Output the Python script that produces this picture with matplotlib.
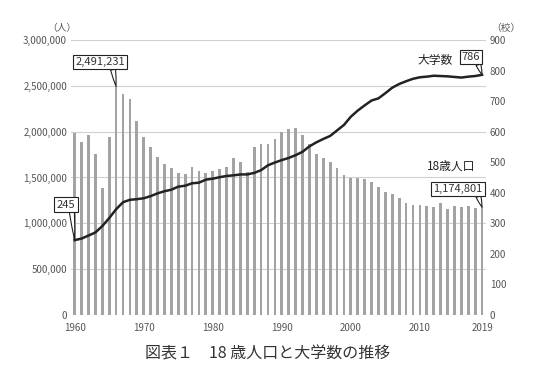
import matplotlib
matplotlib.use("Agg")
import matplotlib.pyplot as plt
import numpy as np

plt.rcParams['font.family'] = ['Noto Sans CJK JP', 'DejaVu Sans']

# 18-year-old population (people), 1960-2019
years = list(range(1960, 2020))
population = [
    1985000, 1884000, 1960000, 1760000, 1382000, 1938000, 2491231, 2414000, 2353000, 2116000,
    1938000, 1836000, 1727000, 1651000, 1607000, 1549000, 1535000, 1614000, 1567000, 1546000,
    1567000, 1593000, 1618000, 1709000, 1666000, 1556000, 1833000, 1869000, 1869000, 1924000,
    1993000, 2033000, 2040000, 1967000, 1860000, 1756000, 1716000, 1666000, 1604000, 1530000,
    1492000, 1490000, 1482000, 1450000, 1391000, 1345000, 1317000, 1276000, 1222000, 1203000,
    1203000, 1189000, 1178000, 1222000, 1160000, 1186000, 1180000, 1189000, 1165000, 1174801,
]
# number of universities
universities = [
    245, 250, 260, 270, 291, 317, 346, 369, 377, 379,
    382, 389, 398, 405, 410, 420, 423, 431, 433, 443,
    446, 451, 455, 457, 460, 460, 465, 474, 490, 499,
    507, 514, 523, 534, 552, 565, 576, 586, 604, 622,
    649, 669, 686, 702, 709, 726, 744, 756, 765, 773,
    778, 780, 783, 782, 781, 779, 777, 780, 782, 786,
]

left_ticks = [0, 500000, 1000000, 1500000, 2000000, 2500000, 3000000]
right_ticks = [0, 100, 200, 300, 400, 500, 600, 700, 800, 900]
x_ticks = [1960, 1970, 1980, 1990, 2000, 2010, 2019]

tick_color = '#555555'

fig = plt.figure(figsize=(5.55, 3.79), dpi=100)
ax = fig.add_axes([0.1283, 0.1689, 0.7465, 0.7256])
ax2 = ax.twinx()

ax.bar(years, population, width=0.4, color='#a3a3a3', zorder=2)
for v in left_ticks:
    ax.axhline(v, color='#d0d0d0', lw=0.8, zorder=1)

ax.set_xlim(1959.5, 2019.5)
ax.set_ylim(0, 3000000)
ax.set_yticks(left_ticks)
ax.set_yticklabels([f"{v:,}" for v in left_ticks])
ax.set_xticks(x_ticks)
ax.set_xticklabels([str(x) for x in x_ticks])

ax2.plot(years, universities, color='#222222', lw=1.8, zorder=3)
ax2.set_ylim(0, 900)
ax2.set_yticks(right_ticks)

for a in (ax, ax2):
    for s in a.spines.values():
        s.set_visible(False)
    a.tick_params(length=0, labelsize=7, colors=tick_color, pad=3)
ax.tick_params(axis='x', pad=6)

# units
fig.text(62 / 555, 1 - 28 / 379, '（人）', fontsize=7, color=tick_color, ha='center', va='center')
fig.text(506 / 555, 1 - 28 / 379, '（校）', fontsize=7, color=tick_color, ha='center', va='center')

# series labels
ax2.text(2012.2, 832, '大学数', fontsize=8.5, color='#222222', ha='center', va='center')
ax2.text(2014.5, 486, '18歳人口', fontsize=8.5, color='#222222', ha='center', va='center')

# callouts
box = dict(boxstyle='square,pad=0.2', fc='white', ec='#222222', lw=0.8)

def callout(axis, xy, xytext, label, relpos):
    axis.annotate(label, xy=xy, xytext=xytext, fontsize=8, color='#333333',
                  ha='center', va='center', bbox=box, annotation_clip=False, zorder=5,
                  arrowprops=dict(arrowstyle='wedge,tail_width=0.45,shrink_factor=0.6',
                                  fc='white', ec='#222222', lw=0.8, relpos=relpos,
                                  shrinkA=0, shrinkB=0))

callout(ax, (1966, 2491231), (1963.7, 2760000), '2,491,231', (0.75, 0.0))
callout(ax2, (1960, 245), (1958.75, 361), '245', (0.8, 0.0))
callout(ax2, (2019, 786), (2017.4, 844), '786', (0.85, 0.0))
callout(ax, (2019, 1174801), (2015.5, 1375000), '1,174,801', (0.9, 0.0))

fig.text(0.482, 1 - 354 / 379, '図表１　18 歳人口と大学数の推移', fontsize=11.5, color='#333333',
         ha='center', va='center')

fig.savefig('out.png', dpi=100)
